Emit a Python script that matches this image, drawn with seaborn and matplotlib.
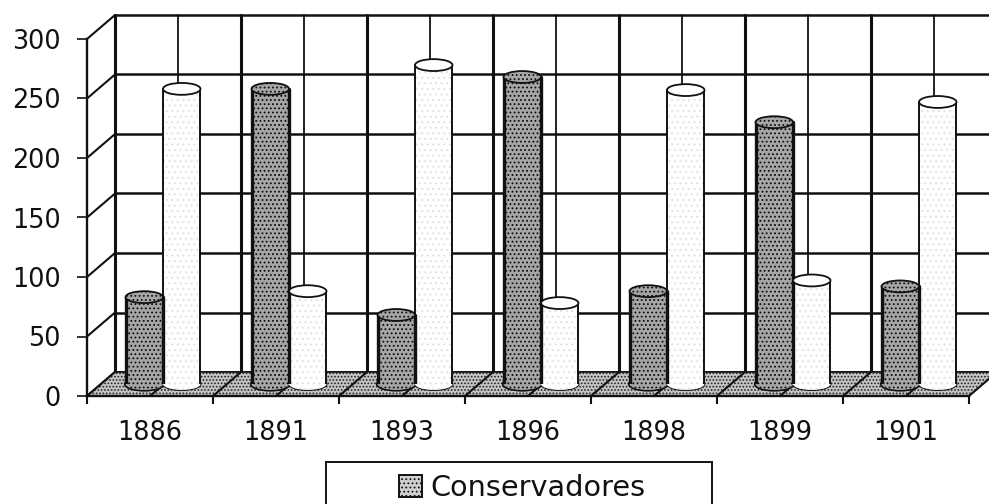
# plot.py
# Conservadores / segundo partido, 1886-1901, look de barres 3D scanne

import numpy as np
import pandas as pd
import matplotlib
matplotlib.use("Agg")
import matplotlib.pyplot as plt
from matplotlib.patches import Ellipse, Polygon, Rectangle, Patch
import seaborn as sns

# Donnees
annees = ["1886", "1891", "1893", "1896", "1898", "1899", "1901"]
conservadores = [73, 248, 58, 258, 78, 220, 82]
otros = [248, 78, 268, 68, 247, 87, 237]
y_ticks = [0, 50, 100, 150, 200, 250, 300]

W, H = 989, 504
sns.set_theme(style="white")
plt.rcParams["font.family"] = "DejaVu Sans"
plt.rcParams["hatch.linewidth"] = 0.8
TXT = "#111111"
DARK = "#a6a6a6"

df = pd.DataFrame({
    "annee": annees * 2,
    "valeur": conservadores + otros,
    "serie": ["Conservadores"] * 7 + ["Otros"] * 7,
})

fig = plt.figure(figsize=(W / 100, H / 100), dpi=100, facecolor="white")


def make_ax(x0, y0, zorder):
    # x0, y0 : origine du repere en pixels image
    ax = fig.add_axes([x0 / W, (H - y0) / H, 882 / W, 357 / H], zorder=zorder)
    ax.set_xlim(-0.5, 6.5)
    ax.set_ylim(0, 300)
    ax.patch.set_alpha(0)
    return ax


back = make_ax(115, 372, 0)
front = make_ax(87, 396, 1)
bars = make_ax(100, 384, 2)

# Parois du fond
dx = -28 / 126
dy = -24 * 300 / 357
for s in back.spines.values():
    s.set_visible(False)
back.set_xticks([])
back.set_yticks([])
for v in y_ticks:
    back.plot([-0.5, 6.72], [v, v], color="#111111", lw=1.8 if v else 1.2, clip_on=False,
              zorder=2)
    back.plot([-0.5 + dx, -0.5], [v + dy, v], color="#111111", lw=1.5, clip_on=False, zorder=2)
for i, x in enumerate(np.arange(-0.5, 6.6, 0.5)):
    lw = 2.2 if i % 2 == 0 else 1.3
    back.plot([x, x], [0, 300], color="#111111", lw=lw, clip_on=False, zorder=2)

# Sol
floor = Polygon([(-0.5 + dx, dy), (-0.5, 0), (6.5, 0), (6.5 + dx, dy)], closed=True,
                facecolor="#c4c4c4", edgecolor="#222222", hatch=".....", lw=0, clip_on=False,
                zorder=3)
back.add_patch(floor)
for x in np.arange(-0.5, 6.6, 0.5):
    back.plot([x + dx, x], [dy, 0], color="#111111", lw=1.5, clip_on=False, zorder=4)
back.plot([-0.5, 6.5], [0, 0], color="#111111", lw=1.2, clip_on=False, zorder=4)

# Axes avant
for name, s in front.spines.items():
    s.set_visible(name in ("left", "bottom"))
    s.set_color("#111111")
    s.set_linewidth(1.7)
front.set_yticks(y_ticks)
front.set_xticks(np.arange(-0.5, 6.6, 1))
front.set_xticklabels([])
front.set_xticks(range(7), minor=True)
front.set_xticklabels(annees, minor=True)
front.tick_params(axis="x", which="major", length=6, width=1.5, bottom=True, color="#111111")
front.tick_params(axis="x", which="minor", length=0, pad=17, labelsize=18.4, labelcolor=TXT)
front.tick_params(axis="y", length=7, width=1.2, left=True, color="#111111", pad=12,
                  labelsize=18.4, labelcolor=TXT)

# Barres
sns.barplot(data=df, x="annee", y="valeur", hue="serie", order=annees, dodge=True, gap=0,
            width=0.595, palette=[DARK, "#ffffff"], legend=False, ax=bars)
bars.set_xlim(-0.5, 6.5)
bars.set_ylim(0, 300)
bars.axis("off")

styles = [(DARK, "#0d0d0d", "....", 2.4), ("#ffffff", "#e2e2e2", "...", 1.4)]
for cont, (fc, hc, hatch, lw) in zip(bars.containers, styles):
    for r in cont:
        r.set(edgecolor=hc, linewidth=0, hatch=hatch, zorder=3)
        x0, w, top = r.get_x(), r.get_width(), r.get_height()
        xc = x0 + w / 2
        base = Ellipse((xc, 0), w, 10, facecolor=fc, edgecolor="#111111", lw=lw, clip_on=False,
                       zorder=2)
        bars.add_patch(base)
        bars.add_patch(Ellipse((xc, 0), w, 10, facecolor=fc, edgecolor=hc, hatch=hatch, lw=0,
                               clip_on=False, zorder=2.1))
        bars.plot([x0, x0], [0, top], color="#111111", lw=lw, zorder=4)
        bars.plot([x0 + w, x0 + w], [0, top], color="#111111", lw=lw, zorder=4)
        bars.add_patch(Ellipse((xc, top), w, 10, facecolor=fc, edgecolor="#111111", lw=1.3,
                               hatch=hatch if fc != "#ffffff" else None, zorder=5,
                               clip_on=False))

# Legende, cadre coupe par le bas de l'image
fig.add_artist(Rectangle((326 / W, -0.05), 386 / W, (H - 462) / H + 0.05, transform=fig.transFigure,
                         facecolor="white", edgecolor="#111111", lw=1.4))
handle = Patch(facecolor="#d0d0d0", edgecolor="#111111", hatch="....", lw=1.4)
leg = fig.legend(handles=[handle], labels=["Conservadores"], loc="center",
                 bbox_to_anchor=(522 / W, (H - 488) / H), frameon=False, fontsize=20.7,
                 handlelength=0.8, handleheight=0.8, handletextpad=0.3, labelcolor=TXT)
leg.set_zorder(5)

fig.savefig("out.png", dpi=100)
